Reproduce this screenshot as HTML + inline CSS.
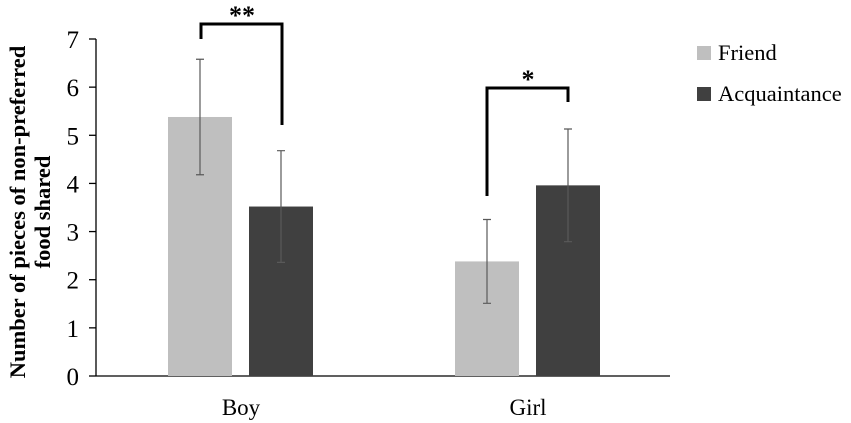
<!DOCTYPE html>
<html><head><meta charset="utf-8"><style>
body{margin:0;background:#fff}
svg{display:block;font-family:"Liberation Serif",serif}
</style></head><body>
<svg id="chart" width="851" height="423" viewBox="0 0 851 423">
<g id="axes"></g><g id="marks"></g>
<text transform="translate(25,212) rotate(-90)" text-anchor="middle" font-size="22.5" font-weight="bold">Number of pieces of non-preferred</text>
<text transform="translate(50,212) rotate(-90)" text-anchor="middle" font-size="22.5" font-weight="bold">food shared</text>
<g>
<rect x="697" y="46" width="14" height="14" fill="#bfbfbf"/>
<text x="718" y="60" font-size="22.5">Friend</text>
<rect x="697" y="87" width="14" height="14" fill="#404040"/>
<text x="718" y="101" font-size="22.5">Acquaintance</text>
</g>
<path d="M201,39 V24 H282 V125" fill="none" stroke="#000" stroke-width="3"/>
<text x="242" y="24" text-anchor="middle" font-size="26" font-weight="bold">**</text>
<path d="M487,196 V88 H568 V102" fill="none" stroke="#000" stroke-width="3"/>
<text x="528" y="88" text-anchor="middle" font-size="26" font-weight="bold">*</text>
</svg>
<script>
const categories=["Boy","Girl"];
const friendValues=[5.38,2.38];
const acquaintanceValues=[3.52,3.96];
const friendErr=[1.2,0.87];
const acquaintanceErr=[1.16,1.17];
const yTicks=[0,1,2,3,4,5,6,7];
const NS="http://www.w3.org/2000/svg";
const y0=376,yPer=(376-39)/7,axX=96;
const y=v=>y0-v*yPer;
const catX=i=>241+i*287;
function mk(t,a,p){const e=document.createElementNS(NS,t);for(const k in a)e.setAttribute(k,a[k]);p.appendChild(e);return e;}
const axes=document.getElementById('axes'),marks=document.getElementById('marks');
let l=mk('line',{x1:axX,y1:y(7),x2:axX,y2:y0,stroke:'#000','stroke-width':1.3},axes);


l=mk('line',{x1:axX,y1:y0,x2:670,y2:y0,stroke:'#000','stroke-width':1.3},axes);


yTicks.forEach(v=>{
 const t=mk('line',{x1:axX-7,y1:y(v),x2:axX,y2:y(v),stroke:'#000','stroke-width':1.3},axes);
 
 
 const tx=mk('text',{x:79,y:y(v)+9,'text-anchor':'end','font-size':25},axes);tx.textContent=v;
 
 
});
categories.forEach((c,i)=>{
 const cx=catX(i);
 const tx=mk('text',{x:cx,y:415,'text-anchor':'middle','font-size':23},axes);tx.textContent=c;
 
 
 [[friendValues,friendErr,'#bfbfbf',-73,'friend'],[acquaintanceValues,acquaintanceErr,'#404040',8,'acquaintance']].forEach(([vals,errs,col,off,nm])=>{
  const v=vals[i],e=errs[i],bx=cx+off;
  const r=mk('rect',{x:bx,y:y(v),width:64,height:y0-y(v),fill:col},marks);
  
  
  const m=bx+32;
  const eb=mk('path',{d:`M${m},${y(v+e)}V${y(v-e)}M${m-4},${y(v+e)}H${m+4}M${m-4},${y(v-e)}H${m+4}`,stroke:'#595959','stroke-width':1.2,fill:'none'},marks);
  
  
 });
});
</script>
</body></html>
